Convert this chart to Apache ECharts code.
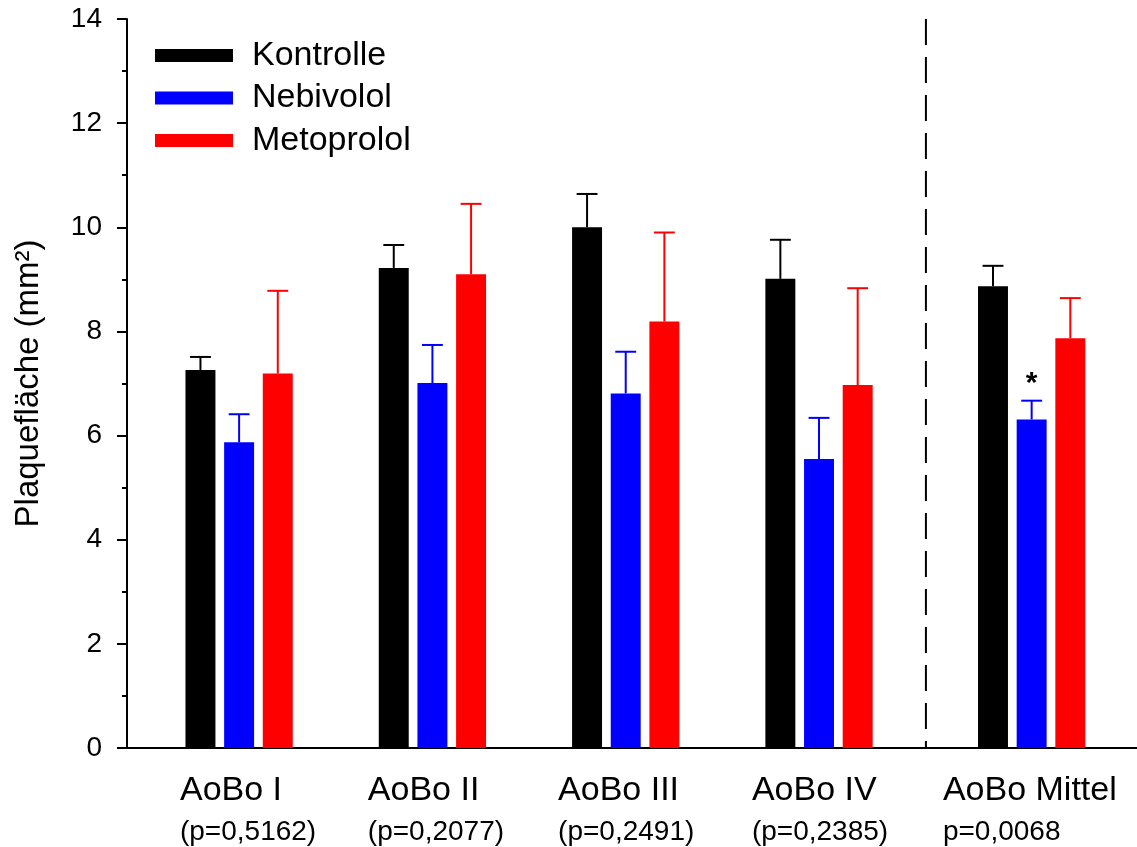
<!DOCTYPE html>
<html>
<head>
<meta charset="utf-8">
<script src="https://cdn.jsdelivr.net/npm/echarts@6/dist/echarts.min.js"></script>
<style>
  html, body { margin: 0; padding: 0; background: #fff; }
  #chart { width: 1137px; height: 847px; }
</style>
</head>
<body>
<div id="chart"></div>
<script>
// Plaque area per aortic segment, mean with upper SEM whisker
const groups = ['AoBo I', 'AoBo II', 'AoBo III', 'AoBo IV', 'AoBo Mittel'];
const pLabels = ['(p=0,5162)', '(p=0,2077)', '(p=0,2491)', '(p=0,2385)', 'p=0,0068'];

const kontrolle    = [7.26, 9.22, 10.00, 9.01, 8.87];
const kontrolleSE  = [0.25, 0.44, 0.64, 0.75, 0.39];
const nebivolol    = [5.87, 7.01, 6.81, 5.55, 6.31];
const nebivololSE  = [0.54, 0.73, 0.80, 0.79, 0.36];
const metoprolol   = [7.19, 9.10, 8.19, 6.97, 7.87];
const metoprololSE = [1.59, 1.35, 1.71, 1.86, 0.77];
const significant  = [false, false, false, false, true]; // Nebivolol vs. Kontrolle

const yTicks = [0, 2, 4, 6, 8, 10, 12, 14];

// layout along the x axis (axis units)
const X_MAX = 5.225;
const groupX = [0.58, 1.58, 2.58, 3.58, 4.68];
const labelX = [0.274, 1.246, 2.230, 3.233, 4.221];
const SEPARATOR_X = 4.133;
const BAR_PITCH = 0.2;
const BAR_W = 0.155;
const CAP_W = 0.108;

const FONT = "'Liberation Sans', Arial, Helvetica, sans-serif";

function barRenderer(slot) {
  return function (params, api) {
    const x = api.value(0) + slot * BAR_PITCH;
    const base = api.coord([x, 0]);
    const top = api.coord([x, api.value(1)]);
    const hi = api.coord([x, api.value(2)]);
    const w = api.size([BAR_W, 0])[0];
    const cw = api.size([CAP_W, 0])[0];
    const color = api.visual('color');
    return {
      type: 'group',
      children: [
        { type: 'rect', shape: { x: top[0] - w / 2, y: top[1], width: w, height: base[1] - top[1] },
          style: { fill: color } },
        { type: 'line', shape: { x1: top[0], y1: top[1], x2: top[0], y2: hi[1] },
          style: { stroke: color, lineWidth: 2 } },
        { type: 'line', shape: { x1: hi[0] - cw / 2, y1: hi[1], x2: hi[0] + cw / 2, y2: hi[1] },
          style: { stroke: color, lineWidth: 2 } }
      ]
    };
  };
}

function rows(values, se) {
  return values.map((v, i) => [groupX[i], v, +(v + se[i]).toFixed(2)]);
}

function barSeries(name, color, values, se, slot) {
  return {
    name: name,
    type: 'custom',
    renderItem: barRenderer(slot),
    itemStyle: { color: color },
    encode: { x: 0, y: [1, 2] },
    data: rows(values, se),
    z: 3
  };
}

const chart = echarts.init(document.getElementById('chart'), null, { renderer: 'canvas' });

chart.setOption({
  animation: false,
  backgroundColor: '#fff',
  textStyle: { fontFamily: FONT },
  grid: { left: 127, right: 0, top: 19, bottom: 99, containLabel: false },
  legend: {
    orient: 'vertical',
    left: 155,
    top: 34.5,
    padding: 0,
    itemGap: 0.5,
    itemWidth: 78,
    itemHeight: 13,
    icon: 'rect',
    selectedMode: false,
    textStyle: { fontFamily: FONT, fontSize: 34, color: '#000', lineHeight: 42, padding: [0, 0, 0, 14] },
    data: ['Kontrolle', 'Nebivolol', 'Metoprolol']
  },
  xAxis: [
    {
      type: 'value', min: 0, max: X_MAX,
      axisLine: { show: true, onZero: false, lineStyle: { color: '#000', width: 2 } },
      axisTick: { show: false }, axisLabel: { show: false }, splitLine: { show: false }
    },
    {
      type: 'value', min: 0, max: X_MAX, position: 'top',
      axisLine: { show: true, lineStyle: { color: '#000', width: 2 } },
      axisTick: { show: false }, axisLabel: { show: false }, splitLine: { show: false }
    }
  ],
  yAxis: {
    type: 'value', min: yTicks[0], max: yTicks[yTicks.length - 1], interval: 2,
    name: 'Plaquefläche (mm²)',
    nameLocation: 'middle',
    nameGap: 82,
    nameTextStyle: { fontFamily: FONT, fontSize: 33, color: '#000' },
    axisLine: { show: true, lineStyle: { color: '#000', width: 2 } },
    axisTick: { show: true, length: 10, lineStyle: { color: '#000', width: 2 } },
    minorTick: { show: true, splitNumber: 2, length: 5, lineStyle: { color: '#000', width: 2 } },
    axisLabel: { fontFamily: FONT, fontSize: 28, color: '#000', margin: 25 },
    splitLine: { show: false }
  },
  series: [
    barSeries('Kontrolle', '#000000', kontrolle, kontrolleSE, -1),
    barSeries('Nebivolol', '#0000ff', nebivolol, nebivololSE, 0),
    barSeries('Metoprolol', '#ff0000', metoprolol, metoprololSE, 1),
    {
      // dashed divider before the averaged segment
      type: 'line',
      silent: true,
      symbol: 'none',
      data: [[SEPARATOR_X, yTicks[yTicks.length - 1]], [SEPARATOR_X, 0]],
      lineStyle: { color: '#000', width: 2, type: [26, 12] },
      z: 2
    },
    {
      // significance marks above the Nebivolol whiskers
      type: 'custom',
      silent: true,
      data: nebivolol.map((v, i) => [groupX[i], +(v + nebivololSE[i]).toFixed(2), significant[i] ? 1 : 0]),
      renderItem: function (params, api) {
        if (!api.value(2)) return null;
        const p = api.coord([api.value(0), api.value(1)]);
        return {
          type: 'text',
          style: { text: '*', x: p[0], y: p[1] - 17, align: 'center', verticalAlign: 'middle',
                   font: 'bold 30px ' + FONT, fill: '#000' }
        };
      },
      z: 4
    },
    {
      // group captions with p-values under the x axis
      type: 'custom',
      silent: true,
      data: groups.map((g, i) => [labelX[i], 0, i]),
      renderItem: function (params, api) {
        const i = api.value(2);
        const p = api.coord([api.value(0), 0]);
        return {
          type: 'group',
          children: [
            { type: 'text', style: { text: groups[i], x: p[0], y: p[1] + 43, align: 'left', verticalAlign: 'middle',
                                     font: '34px ' + FONT, fill: '#000' } },
            { type: 'text', style: { text: pLabels[i], x: p[0], y: p[1] + 84, align: 'left', verticalAlign: 'middle',
                                     font: '28px ' + FONT, fill: '#000' } }
          ]
        };
      },
      z: 4
    }
  ]
});
</script>
</body>
</html>
